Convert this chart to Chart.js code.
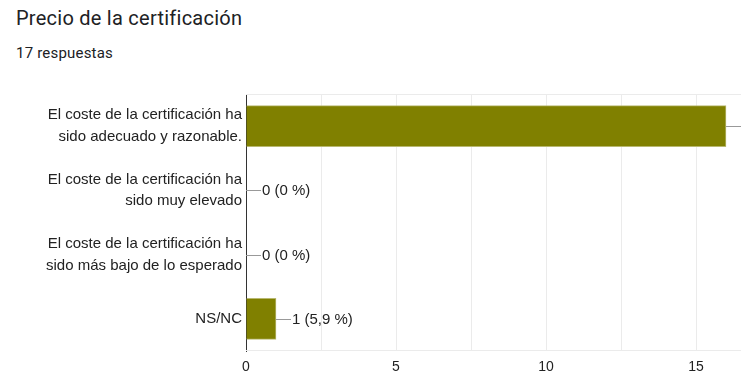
<!DOCTYPE html>
<html>
<head>
<meta charset="utf-8">
<script src="https://cdn.jsdelivr.net/npm/chart.js@4/dist/chart.umd.min.js"></script>
<style>
  body { margin: 0; background: #fff; }
  #wrap { position: relative; width: 741px; height: 389px; overflow: hidden; }
  #title { position: absolute; left: 16px; top: 6px; font: 20px Roboto, Arial, sans-serif; line-height: 24px; color: #202124; letter-spacing: 0.25px; }
  #sub { position: absolute; left: 16px; top: 43px; font: 15px Roboto, Arial, sans-serif; line-height: 20px; color: #202124; letter-spacing: 0.2px; }
  canvas { position: absolute; left: 0; top: 0; }
</style>
</head>
<body>
<div id="wrap">
  <div id="title">Precio de la certificación</div>
  <div id="sub">17 respuestas</div>
  <canvas id="chart" width="741" height="389"></canvas>
</div>
<script>
const categories = [
  ['El coste de la certificación ha', 'sido adecuado y razonable.'],
  ['El coste de la certificación ha', 'sido muy elevado'],
  ['El coste de la certificación ha', 'sido más bajo de lo esperado'],
  'NS/NC'
];
const counts = [16, 0, 0, 1];
const totalAnswers = 17;
const tickValues = [0, 2.5, 5, 7.5, 10, 12.5, 15];

const textFont = 'Arial, "Liberation Sans", sans-serif';

// etiquetas con línea guía al final de cada barra
const valueLabels = {
  id: 'valueLabels',
  afterDatasetsDraw(chart) {
    const ctx = chart.ctx;
    const meta = chart.getDatasetMeta(0);
    ctx.save();
    ctx.font = '15px ' + textFont;
    ctx.textBaseline = 'middle';
    meta.data.forEach((bar, i) => {
      const v = counts[i];
      const pct = (v / totalAnswers * 100).toFixed(1).replace('.', ',');
      const txt = v === 0 ? '0 (0 %)' : v + ' (' + pct + ' %)';
      const x = bar.x, y = Math.round(bar.y) + 0.5;
      ctx.strokeStyle = '#999';
      ctx.lineWidth = 1;
      ctx.beginPath();
      ctx.moveTo(x, y);
      ctx.lineTo(x + 15, y);
      ctx.stroke();
      ctx.fillStyle = '#222';
      ctx.fillText(txt, x + 16, y);
    });
    ctx.restore();
  }
};

// línea superior e inferior del área
const frameLines = {
  id: 'frameLines',
  beforeDatasetsDraw(chart) {
    const { ctx, chartArea: a } = chart;
    ctx.save();
    ctx.strokeStyle = '#ebebeb';
    ctx.lineWidth = 1;
    ctx.beginPath();
    ctx.moveTo(a.left, a.top + 0.5);
    ctx.lineTo(a.right, a.top + 0.5);
    ctx.moveTo(a.left, a.bottom - 0.5);
    ctx.lineTo(a.right, a.bottom - 0.5);
    ctx.stroke();
    ctx.restore();
  }
};

new Chart(document.getElementById('chart'), {
  type: 'bar',
  data: {
    labels: categories,
    datasets: [{
      data: counts,
      backgroundColor: '#808000',
      borderColor: '#b8b870',
      borderWidth: 1,
      barThickness: 41
    }]
  },
  options: {
    indexAxis: 'y',
    responsive: false,
    animation: false,
    layout: { padding: { top: 94, left: 0, right: 0, bottom: 0 } },
    scales: {
      x: {
        min: 0,
        max: 16.5,
        afterBuildTicks: (scale) => { scale.ticks = tickValues.map(v => ({ value: v })); },
        afterFit: (scale) => { scale.height = 38; },
        ticks: {
          callback: (v) => (v % 5 === 0 ? String(v) : ''),
          color: '#222',
          font: { family: textFont, size: 14 },
          padding: 8,
          maxRotation: 0,
          autoSkip: false
        },
        grid: {
          color: '#ebebeb',
          drawTicks: false
        },
        border: { display: false }
      },
      y: {
        afterFit: (scale) => { scale.width = 246; },
        ticks: {
          color: '#222',
          font: { family: textFont, size: 15, lineHeight: 1.44 },
          padding: 4
        },
        grid: { display: false, drawTicks: false },
        border: { display: true, color: '#333', width: 1 }
      }
    },
    plugins: {
      legend: { display: false },
      tooltip: { enabled: false }
    }
  },
  plugins: [frameLines, valueLabels]
});
</script>
</body>
</html>
